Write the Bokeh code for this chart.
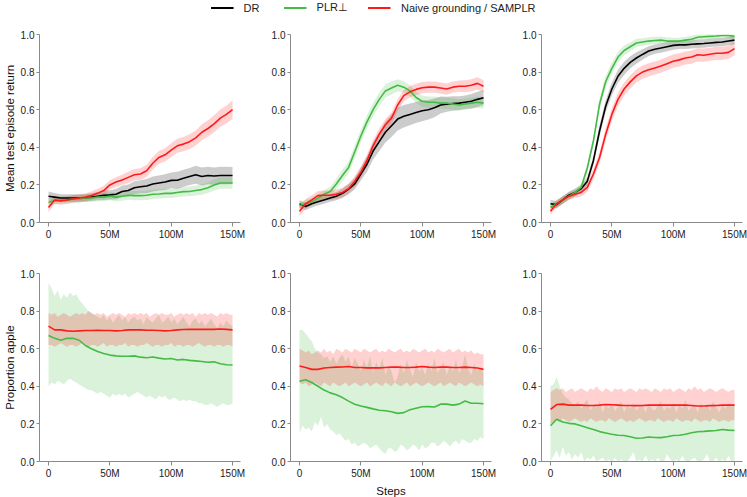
import numpy as np
from bokeh.plotting import figure
from bokeh.layouts import column, row
from bokeh.models import Range1d, FixedTicker, NumeralTickFormatter
from bokeh.embed import file_html
from bokeh.resources import INLINE

# ---------------- data ----------------
STEPS_M = [0, 5, 10, 15, 20, 25, 30, 35, 40, 45,
           50, 55, 60, 65, 70, 75, 80, 85, 90, 95,
           100, 105, 110, 115, 120, 125, 130, 135, 140, 145,
           150]
STEPS_FINE_M = [0, 2.5, 5, 7.5, 10, 12.5, 15, 17.5, 20, 22.5,
                25, 27.5, 30, 32.5, 35, 37.5, 40, 42.5, 45, 47.5,
                50, 52.5, 55, 57.5, 60, 62.5, 65, 67.5, 70, 72.5,
                75, 77.5, 80, 82.5, 85, 87.5, 90, 92.5, 95, 97.5,
                100, 102.5, 105, 107.5, 110, 112.5, 115, 117.5, 120, 122.5,
                125, 127.5, 130, 132.5, 135, 137.5, 140, 142.5, 145, 147.5,
                150]
SERIES = ["DR", "PLR\u22a5", "Naive grounding / SAMPLR"]
X_TICKS = [0, 50, 100, 150]
X_TICK_LABELS = ["0", "50M", "100M", "150M"]
Y_TICKS = [0.0, 0.2, 0.4, 0.6, 0.8, 1.0]

# Top row: mean test episode return (mean and half-width of band)
TL_DR_MEAN = [0.14, 0.135, 0.13, 0.13, 0.13, 0.13, 0.13, 0.135, 0.14, 0.145,
              0.147, 0.15, 0.165, 0.17, 0.185, 0.19, 0.194, 0.205, 0.21, 0.215,
              0.224, 0.225, 0.235, 0.245, 0.254, 0.245, 0.25, 0.247, 0.25, 0.25,
              0.25]
TL_DR_SPREAD = [0.025, 0.022, 0.02, 0.02, 0.02, 0.02, 0.02, 0.02, 0.022, 0.025,
                0.025, 0.028, 0.03, 0.032, 0.035, 0.035, 0.038, 0.04, 0.04, 0.042,
                0.042, 0.045, 0.045, 0.045, 0.048, 0.048, 0.046, 0.046, 0.046, 0.046,
                0.045]
TL_PLR_MEAN = [0.108, 0.115, 0.12, 0.12, 0.125, 0.125, 0.13, 0.13, 0.135, 0.135,
               0.14, 0.135, 0.14, 0.145, 0.143, 0.143, 0.145, 0.15, 0.152, 0.155,
               0.155, 0.16, 0.164, 0.165, 0.17, 0.175, 0.185, 0.2, 0.21, 0.21,
               0.21]
TL_PLR_SPREAD = [0.02, 0.02, 0.02, 0.02, 0.02, 0.02, 0.02, 0.02, 0.022, 0.022,
                 0.022, 0.022, 0.024, 0.024, 0.024, 0.025, 0.025, 0.025, 0.025, 0.025,
                 0.025, 0.026, 0.026, 0.026, 0.027, 0.028, 0.028, 0.03, 0.03, 0.03,
                 0.03]
TL_SAMPLR_MEAN = [0.08, 0.12, 0.115, 0.12, 0.125, 0.13, 0.135, 0.143, 0.155, 0.17,
                  0.2, 0.215, 0.226, 0.24, 0.254, 0.258, 0.275, 0.315, 0.346, 0.36,
                  0.385, 0.408, 0.417, 0.43, 0.45, 0.48, 0.5, 0.525, 0.555, 0.575,
                  0.6]
TL_SAMPLR_SPREAD = [0.025, 0.02, 0.02, 0.02, 0.02, 0.02, 0.02, 0.022, 0.024, 0.025,
                    0.025, 0.026, 0.028, 0.03, 0.03, 0.03, 0.032, 0.033, 0.034, 0.035,
                    0.036, 0.037, 0.038, 0.04, 0.04, 0.042, 0.044, 0.045, 0.046, 0.048,
                    0.05]

TM_DR_MEAN = [0.099, 0.085, 0.1, 0.11, 0.12, 0.13, 0.14, 0.155, 0.178, 0.205,
              0.258, 0.31, 0.38, 0.43, 0.48, 0.515, 0.55, 0.565, 0.575, 0.585,
              0.594, 0.6, 0.61, 0.625, 0.629, 0.633, 0.635, 0.64, 0.645, 0.655,
              0.664]
TM_DR_SPREAD = [0.02, 0.02, 0.02, 0.02, 0.02, 0.02, 0.022, 0.025, 0.028, 0.03,
                0.035, 0.04, 0.045, 0.05, 0.055, 0.06, 0.06, 0.06, 0.058, 0.056,
                0.055, 0.052, 0.05, 0.045, 0.04, 0.038, 0.036, 0.036, 0.038, 0.04,
                0.04]
TM_PLR_MEAN = [0.09, 0.1, 0.11, 0.13, 0.15, 0.165, 0.205, 0.25, 0.293, 0.375,
               0.46, 0.535, 0.6, 0.655, 0.7, 0.715, 0.73, 0.72, 0.7, 0.665,
               0.645, 0.64, 0.64, 0.635, 0.635, 0.63, 0.625, 0.63, 0.635, 0.64,
               0.635]
TM_PLR_SPREAD = [0.02, 0.02, 0.02, 0.02, 0.022, 0.025, 0.028, 0.03, 0.032, 0.035,
                 0.035, 0.035, 0.035, 0.035, 0.035, 0.035, 0.032, 0.03, 0.03, 0.03,
                 0.03, 0.03, 0.03, 0.03, 0.03, 0.03, 0.03, 0.03, 0.03, 0.03,
                 0.03]
TM_SAMPLR_MEAN = [0.06, 0.1, 0.12, 0.143, 0.145, 0.145, 0.15, 0.16, 0.18, 0.22,
                  0.267, 0.33, 0.408, 0.47, 0.52, 0.555, 0.625, 0.675, 0.695, 0.708,
                  0.717, 0.72, 0.72, 0.715, 0.71, 0.72, 0.725, 0.725, 0.73, 0.74,
                  0.725]
TM_SAMPLR_SPREAD = [0.025, 0.025, 0.025, 0.025, 0.025, 0.025, 0.025, 0.025, 0.025, 0.028,
                    0.03, 0.03, 0.03, 0.03, 0.03, 0.03, 0.03, 0.03, 0.03, 0.03,
                    0.03, 0.03, 0.03, 0.03, 0.03, 0.03, 0.03, 0.032, 0.032, 0.032,
                    0.032]

TR_DR_MEAN = [0.1, 0.095, 0.12, 0.145, 0.16, 0.18, 0.22, 0.33, 0.488, 0.62,
              0.71, 0.778, 0.82, 0.852, 0.875, 0.894, 0.912, 0.922, 0.928, 0.935,
              0.942, 0.945, 0.945, 0.948, 0.95, 0.952, 0.955, 0.958, 0.96, 0.965,
              0.97]
TR_DR_SPREAD = [0.02, 0.02, 0.02, 0.02, 0.02, 0.02, 0.022, 0.025, 0.03, 0.032,
                0.035, 0.035, 0.035, 0.032, 0.03, 0.028, 0.026, 0.025, 0.025, 0.024,
                0.023, 0.022, 0.022, 0.022, 0.022, 0.022, 0.022, 0.022, 0.022, 0.022,
                0.022]
TR_PLR_MEAN = [0.08, 0.1, 0.12, 0.14, 0.16, 0.187, 0.29, 0.435, 0.63, 0.75,
               0.82, 0.88, 0.915, 0.935, 0.955, 0.96, 0.965, 0.968, 0.97, 0.965,
               0.965, 0.965, 0.97, 0.975, 0.985, 0.988, 0.99, 0.992, 0.995, 0.995,
               0.99]
TR_PLR_SPREAD = [0.02, 0.02, 0.02, 0.02, 0.02, 0.02, 0.022, 0.025, 0.028, 0.03,
                 0.03, 0.028, 0.026, 0.024, 0.022, 0.02, 0.02, 0.02, 0.02, 0.02,
                 0.018, 0.018, 0.018, 0.018, 0.016, 0.016, 0.015, 0.015, 0.015, 0.015,
                 0.015]
TR_SAMPLR_MEAN = [0.06, 0.1, 0.12, 0.14, 0.15, 0.16, 0.187, 0.258, 0.346, 0.47,
                  0.575, 0.655, 0.71, 0.748, 0.78, 0.8, 0.812, 0.822, 0.832, 0.845,
                  0.858, 0.865, 0.875, 0.88, 0.892, 0.89, 0.895, 0.9, 0.9, 0.905,
                  0.925]
TR_SAMPLR_SPREAD = [0.02, 0.02, 0.02, 0.02, 0.02, 0.022, 0.025, 0.028, 0.03, 0.032,
                    0.034, 0.035, 0.035, 0.035, 0.035, 0.035, 0.035, 0.035, 0.035, 0.035,
                    0.035, 0.035, 0.035, 0.035, 0.035, 0.035, 0.035, 0.035, 0.035, 0.035,
                    0.035]

# Bottom row: proportion apple (mean + band edges)
BL_SAMPLR_MEAN = [0.72, 0.70, 0.70, 0.695, 0.693, 0.695, 0.697, 0.697, 0.698, 0.697,
                  0.697, 0.695, 0.697, 0.70, 0.70, 0.70, 0.698, 0.698, 0.697, 0.695,
                  0.697, 0.70, 0.702, 0.703, 0.703, 0.703, 0.703, 0.703, 0.705, 0.703,
                  0.70]
BL_PLR_MEAN = [0.67, 0.655, 0.645, 0.655, 0.655, 0.645, 0.617, 0.6, 0.585, 0.575,
               0.566, 0.562, 0.56, 0.56, 0.562, 0.555, 0.552, 0.556, 0.55, 0.545,
               0.548, 0.54, 0.543, 0.538, 0.535, 0.532, 0.528, 0.53, 0.52, 0.515,
               0.513]
BL_SAMPLR_HI = [0.79, 0.78, 0.79, 0.77, 0.78, 0.79, 0.78, 0.77, 0.78, 0.79,
                0.78, 0.79, 0.78, 0.80, 0.79, 0.78, 0.79, 0.78, 0.79, 0.77,
                0.78, 0.79, 0.78, 0.79, 0.78, 0.77, 0.79, 0.78, 0.79, 0.78,
                0.79, 0.78, 0.79, 0.77, 0.78, 0.79, 0.78, 0.79, 0.78, 0.78,
                0.79, 0.77, 0.78, 0.79, 0.78, 0.79, 0.78, 0.79, 0.77, 0.79,
                0.78, 0.79, 0.78, 0.79, 0.78, 0.77, 0.79, 0.78, 0.79, 0.78,
                0.78]
BL_SAMPLR_LO = [0.62, 0.62, 0.61, 0.62, 0.63, 0.62, 0.61, 0.62, 0.62, 0.61,
                0.62, 0.63, 0.62, 0.61, 0.62, 0.62, 0.61, 0.62, 0.63, 0.61,
                0.62, 0.62, 0.61, 0.62, 0.62, 0.63, 0.61, 0.62, 0.62, 0.61,
                0.62, 0.62, 0.63, 0.62, 0.61, 0.62, 0.62, 0.61, 0.62, 0.62,
                0.63, 0.61, 0.62, 0.62, 0.61, 0.62, 0.62, 0.61, 0.62, 0.63,
                0.62, 0.61, 0.62, 0.62, 0.61, 0.62, 0.62, 0.61, 0.62, 0.62,
                0.61]
BL_PLR_HI = [0.95, 0.92, 0.88, 0.91, 0.86, 0.89, 0.87, 0.90, 0.88, 0.89,
             0.86, 0.84, 0.82, 0.80, 0.79, 0.78, 0.77, 0.76, 0.78, 0.75,
             0.77, 0.74, 0.76, 0.78, 0.75, 0.77, 0.74, 0.76, 0.77, 0.75,
             0.76, 0.73, 0.77, 0.75, 0.74, 0.76, 0.78, 0.74, 0.75, 0.77,
             0.74, 0.76, 0.73, 0.75, 0.77, 0.74, 0.72, 0.75, 0.76, 0.73,
             0.75, 0.72, 0.74, 0.76, 0.73, 0.71, 0.74, 0.72, 0.75, 0.73,
             0.72]
BL_PLR_LO = [0.40, 0.42, 0.41, 0.43, 0.42, 0.41, 0.43, 0.44, 0.43, 0.42,
             0.41, 0.40, 0.39, 0.38, 0.38, 0.37, 0.36, 0.37, 0.36, 0.35,
             0.34, 0.36, 0.35, 0.36, 0.35, 0.36, 0.34, 0.35, 0.36, 0.37,
             0.36, 0.35, 0.34, 0.35, 0.34, 0.33, 0.35, 0.34, 0.35, 0.33,
             0.33, 0.34, 0.33, 0.32, 0.33, 0.32, 0.33, 0.32, 0.32, 0.31,
             0.31, 0.30, 0.30, 0.31, 0.30, 0.29, 0.30, 0.31, 0.30, 0.30,
             0.31]

BM_SAMPLR_MEAN = [0.508, 0.5, 0.49, 0.49, 0.497, 0.5, 0.502, 0.503, 0.505, 0.5,
                  0.5, 0.498, 0.498, 0.498, 0.5, 0.502, 0.502, 0.5, 0.5, 0.502,
                  0.505, 0.502, 0.5, 0.502, 0.502, 0.5, 0.5, 0.502, 0.5, 0.497,
                  0.49]
BM_PLR_MEAN = [0.427, 0.435, 0.42, 0.4, 0.38, 0.365, 0.355, 0.34, 0.321, 0.305,
               0.295, 0.288, 0.28, 0.273, 0.27, 0.265, 0.256, 0.26, 0.275, 0.283,
               0.291, 0.292, 0.29, 0.305, 0.305, 0.3, 0.305, 0.322, 0.31, 0.31,
               0.307]
BM_SAMPLR_HI = [0.60, 0.59, 0.58, 0.59, 0.57, 0.58, 0.59, 0.58, 0.60, 0.58,
                0.59, 0.57, 0.60, 0.59, 0.58, 0.60, 0.59, 0.58, 0.60, 0.59,
                0.58, 0.60, 0.59, 0.58, 0.59, 0.60, 0.58, 0.59, 0.58, 0.60,
                0.59, 0.58, 0.59, 0.60, 0.58, 0.59, 0.58, 0.60, 0.59, 0.58,
                0.59, 0.60, 0.58, 0.59, 0.58, 0.60, 0.59, 0.58, 0.59, 0.60,
                0.58, 0.59, 0.60, 0.58, 0.59, 0.58, 0.59, 0.57, 0.58, 0.57,
                0.57]
BM_SAMPLR_LO = [0.42, 0.41, 0.42, 0.40, 0.41, 0.42, 0.41, 0.40, 0.42, 0.41,
                0.40, 0.42, 0.41, 0.40, 0.41, 0.42, 0.40, 0.41, 0.42, 0.41,
                0.40, 0.41, 0.42, 0.40, 0.41, 0.42, 0.41, 0.40, 0.42, 0.41,
                0.40, 0.42, 0.41, 0.40, 0.41, 0.42, 0.40, 0.41, 0.42, 0.41,
                0.40, 0.41, 0.42, 0.41, 0.40, 0.41, 0.42, 0.40, 0.41, 0.42,
                0.41, 0.40, 0.42, 0.41, 0.40, 0.41, 0.42, 0.41, 0.40, 0.41,
                0.40]
BM_PLR_HI = [0.70, 0.70, 0.68, 0.66, 0.64, 0.60, 0.58, 0.57, 0.55, 0.56,
             0.53, 0.56, 0.52, 0.55, 0.57, 0.53, 0.56, 0.50, 0.55, 0.52,
             0.48, 0.54, 0.50, 0.56, 0.47, 0.53, 0.49, 0.55, 0.46, 0.51,
             0.48, 0.42, 0.45, 0.52, 0.47, 0.54, 0.49, 0.45, 0.53, 0.48,
             0.50, 0.46, 0.52, 0.48, 0.55, 0.47, 0.50, 0.53, 0.46, 0.51,
             0.48, 0.54, 0.47, 0.50, 0.57, 0.49, 0.46, 0.52, 0.48, 0.50,
             0.47]
BM_PLR_LO = [0.15, 0.19, 0.17, 0.18, 0.16, 0.21, 0.19, 0.24, 0.18, 0.20,
             0.17, 0.16, 0.14, 0.15, 0.13, 0.11, 0.12, 0.09, 0.10, 0.08,
             0.09, 0.10, 0.09, 0.07, 0.08, 0.09, 0.07, 0.05, 0.04, 0.07,
             0.07, 0.05, 0.06, 0.09, 0.08, 0.06, 0.07, 0.09, 0.08, 0.06,
             0.09, 0.07, 0.08, 0.10, 0.10, 0.08, 0.09, 0.11, 0.10, 0.08,
             0.10, 0.11, 0.09, 0.12, 0.11, 0.10, 0.10, 0.12, 0.11, 0.13,
             0.12]

BR_SAMPLR_MEAN = [0.277, 0.303, 0.305, 0.3, 0.3, 0.3, 0.298, 0.298, 0.3, 0.303,
                  0.302, 0.3, 0.298, 0.298, 0.297, 0.298, 0.3, 0.3, 0.3, 0.3,
                  0.3, 0.3, 0.3, 0.298, 0.295, 0.295, 0.297, 0.298, 0.3, 0.3,
                  0.3]
BR_PLR_MEAN = [0.19, 0.225, 0.21, 0.203, 0.2, 0.19, 0.18, 0.17, 0.159, 0.152,
               0.145, 0.14, 0.138, 0.132, 0.124, 0.125, 0.13, 0.128, 0.127, 0.132,
               0.138, 0.14, 0.145, 0.153, 0.158, 0.16, 0.163, 0.165, 0.17, 0.167,
               0.165]
BR_SAMPLR_HI = [0.37, 0.38, 0.39, 0.38, 0.39, 0.37, 0.38, 0.39, 0.37, 0.38,
                0.39, 0.38, 0.37, 0.39, 0.38, 0.40, 0.38, 0.37, 0.39, 0.38,
                0.37, 0.39, 0.38, 0.39, 0.37, 0.38, 0.39, 0.38, 0.37, 0.39,
                0.38, 0.39, 0.38, 0.37, 0.39, 0.38, 0.37, 0.39, 0.38, 0.39,
                0.37, 0.38, 0.39, 0.38, 0.37, 0.39, 0.38, 0.40, 0.38, 0.39,
                0.37, 0.38, 0.39, 0.38, 0.37, 0.38, 0.39, 0.38, 0.37, 0.38,
                0.38]
BR_SAMPLR_LO = [0.20, 0.21, 0.22, 0.21, 0.23, 0.22, 0.21, 0.22, 0.23, 0.22,
                0.21, 0.22, 0.21, 0.23, 0.22, 0.21, 0.22, 0.22, 0.21, 0.23,
                0.22, 0.21, 0.22, 0.23, 0.22, 0.21, 0.22, 0.21, 0.22, 0.23,
                0.22, 0.21, 0.22, 0.22, 0.21, 0.23, 0.22, 0.21, 0.22, 0.22,
                0.21, 0.23, 0.22, 0.21, 0.22, 0.22, 0.21, 0.23, 0.22, 0.21,
                0.22, 0.22, 0.21, 0.23, 0.22, 0.21, 0.22, 0.22, 0.21, 0.22,
                0.22]
BR_PLR_HI = [0.40, 0.41, 0.45, 0.40, 0.36, 0.34, 0.33, 0.31, 0.30, 0.32,
             0.28, 0.31, 0.33, 0.27, 0.30, 0.29, 0.32, 0.26, 0.30, 0.28,
             0.31, 0.27, 0.29, 0.32, 0.26, 0.30, 0.28, 0.31, 0.27, 0.29,
             0.30, 0.26, 0.31, 0.28, 0.27, 0.30, 0.32, 0.27, 0.29, 0.28,
             0.31, 0.26, 0.30, 0.28, 0.33, 0.27, 0.29, 0.30, 0.26, 0.31,
             0.28, 0.30, 0.27, 0.32, 0.29, 0.26, 0.30, 0.28, 0.31, 0.29,
             0.30]
BR_PLR_LO = [0.00, 0.03, 0.06, 0.02, 0.08, 0.03, 0.05, 0.01, 0.04, 0.02,
             0.05, 0.00, 0.02, 0.01, 0.03, 0.00, 0.01, 0.02, 0.00, 0.01,
             0.00, 0.02, 0.00, 0.01, 0.00, 0.00, 0.02, 0.05, 0.00, 0.01,
             0.00, 0.03, 0.00, 0.01, 0.00, 0.02, 0.00, 0.00, 0.04, 0.01,
             0.00, 0.01, 0.00, 0.03, 0.00, 0.00, 0.01, 0.02, 0.00, 0.00,
             0.01, 0.04, 0.00, 0.00, 0.02, 0.00, 0.01, 0.00, 0.03, 0.00,
             0.00]

# ---------------- style ----------------
FONT = "Liberation Sans"
COLORS = {"DR": "#000000", "PLR": "#44bb44", "SAMPLR": "#ff1a1a"}
AXIS_GREY = "#8a8a8a"
TEXT_COL = "#222222"
FRAME_W, FRAME_H = 201, 188
LINE_W = 1.6
BAND_ALPHA = 0.2


def make_panel(left, right, top, bottom, ylabel=None, xlabel=None):
    p = figure(frame_width=FRAME_W, frame_height=FRAME_H,
               x_range=Range1d(-7.35, 156.5), y_range=Range1d(0, 1.0),
               output_backend="svg", toolbar_location=None,
               min_border_left=left, min_border_right=right,
               min_border_top=top, min_border_bottom=bottom)
    p.outline_line_color = None
    p.grid.visible = False
    p.background_fill_color = "white"
    p.border_fill_color = "white"
    for ax in (p.xaxis[0], p.yaxis[0]):
        ax.axis_line_color = AXIS_GREY
        ax.major_tick_line_color = AXIS_GREY
        ax.minor_tick_line_color = None
        ax.major_tick_in = 0
        ax.major_label_text_font = FONT
        ax.major_label_text_font_size = "10px"
        ax.major_label_text_color = TEXT_COL
        ax.axis_label_text_font = FONT
        ax.axis_label_text_font_size = "11.5px"
        ax.axis_label_text_font_style = "normal"
        ax.axis_label_text_color = "#111111"
    p.xaxis.ticker = FixedTicker(ticks=X_TICKS)
    p.xaxis.major_label_overrides = {t: lab for t, lab in zip(X_TICKS, X_TICK_LABELS)}
    p.xaxis.major_tick_out = 4
    p.xaxis.major_label_standoff = 2
    p.yaxis.ticker = FixedTicker(ticks=Y_TICKS)
    p.yaxis.formatter = NumeralTickFormatter(format="0.0")
    p.yaxis.major_tick_out = 3
    p.yaxis.major_label_standoff = 2
    if ylabel:
        p.yaxis.axis_label = ylabel
        p.yaxis.axis_label_standoff = 2
    if xlabel:
        p.xaxis.axis_label = xlabel
        p.xaxis.axis_label_standoff = 3
    return p


def add_mean_band(p, mean, spread, color):
    m = np.array(mean)
    s = np.array(spread)
    p.varea(x=STEPS_M, y1=m - s, y2=m + s, fill_color=color, fill_alpha=BAND_ALPHA)


def add_edge_band(p, lo, hi, color):
    p.varea(x=STEPS_FINE_M, y1=lo, y2=hi, fill_color=color, fill_alpha=BAND_ALPHA)


def add_line(p, mean, color):
    p.line(STEPS_M, mean, line_color=color, line_width=LINE_W)


# geometry of borders
L1, R1, L2, R2, L3, R3 = 38, 24, 26, 24, 26, 5
TOP1, BOT1 = 20, 23
TOP2, BOT2 = 28, 34
LEGEND_H = 14

top_specs = [
    (TL_DR_MEAN, TL_DR_SPREAD, TL_PLR_MEAN, TL_PLR_SPREAD, TL_SAMPLR_MEAN, TL_SAMPLR_SPREAD),
    (TM_DR_MEAN, TM_DR_SPREAD, TM_PLR_MEAN, TM_PLR_SPREAD, TM_SAMPLR_MEAN, TM_SAMPLR_SPREAD),
    (TR_DR_MEAN, TR_DR_SPREAD, TR_PLR_MEAN, TR_PLR_SPREAD, TR_SAMPLR_MEAN, TR_SAMPLR_SPREAD),
]
bottom_specs = [
    (BL_PLR_MEAN, BL_PLR_LO, BL_PLR_HI, BL_SAMPLR_MEAN, BL_SAMPLR_LO, BL_SAMPLR_HI),
    (BM_PLR_MEAN, BM_PLR_LO, BM_PLR_HI, BM_SAMPLR_MEAN, BM_SAMPLR_LO, BM_SAMPLR_HI),
    (BR_PLR_MEAN, BR_PLR_LO, BR_PLR_HI, BR_SAMPLR_MEAN, BR_SAMPLR_LO, BR_SAMPLR_HI),
]
borders = [(L1, R1), (L2, R2), (L3, R3)]

top_figs = []
for i, spec in enumerate(top_specs):
    dm, ds, pm, ps, sm, ss = spec
    p = make_panel(borders[i][0], borders[i][1], TOP1, BOT1,
                   ylabel="Mean test episode return" if i == 0 else None)
    add_mean_band(p, dm, ds, COLORS["DR"])
    add_mean_band(p, pm, ps, COLORS["PLR"])
    add_mean_band(p, sm, ss, COLORS["SAMPLR"])
    add_line(p, dm, COLORS["DR"])
    add_line(p, pm, COLORS["PLR"])
    add_line(p, sm, COLORS["SAMPLR"])
    top_figs.append(p)

bottom_figs = []
for i, spec in enumerate(bottom_specs):
    pm, plo, phi, sm, slo, shi = spec
    p = make_panel(borders[i][0], borders[i][1], TOP2, BOT2,
                   ylabel="Proportion apple" if i == 0 else None,
                   xlabel="Steps" if i == 1 else None)
    add_edge_band(p, plo, phi, COLORS["PLR"])
    add_edge_band(p, slo, shi, COLORS["SAMPLR"])
    add_line(p, pm, COLORS["PLR"])
    add_line(p, sm, COLORS["SAMPLR"])
    bottom_figs.append(p)

total_w = (L1 + R1 + L2 + R2 + L3 + R3) + 3 * FRAME_W

# legend strip (legend renderers hold points outside the visible range)
lg = figure(width=total_w, height=LEGEND_H, x_range=Range1d(0, 1), y_range=Range1d(0, 1),
            output_backend="svg", toolbar_location=None,
            x_axis_location=None, y_axis_location=None,
            min_border_left=0, min_border_right=0, min_border_top=0, min_border_bottom=0)
lg.outline_line_color = None
lg.grid.visible = False
for name, key in zip(SERIES, ["DR", "PLR", "SAMPLR"]):
    lg.line(x=[5, 6], y=[5, 6], line_color=COLORS[key], line_width=2.2, legend_label=name)
lg.legend.location = "center"
lg.legend.orientation = "horizontal"
lg.legend.border_line_color = None
lg.legend.background_fill_alpha = 0
lg.legend.label_text_font = FONT
lg.legend.label_text_font_size = "11px"
lg.legend.label_text_color = TEXT_COL
lg.legend.glyph_width = 23
lg.legend.glyph_height = 12
lg.legend.label_height = 12
lg.legend.label_standoff = 10
lg.legend.spacing = 20
lg.legend.padding = 0
lg.legend.margin = 0

layout = column(lg, row(*top_figs), row(*bottom_figs))

with open("out.html", "w") as f:
    f.write(file_html(layout, INLINE))
